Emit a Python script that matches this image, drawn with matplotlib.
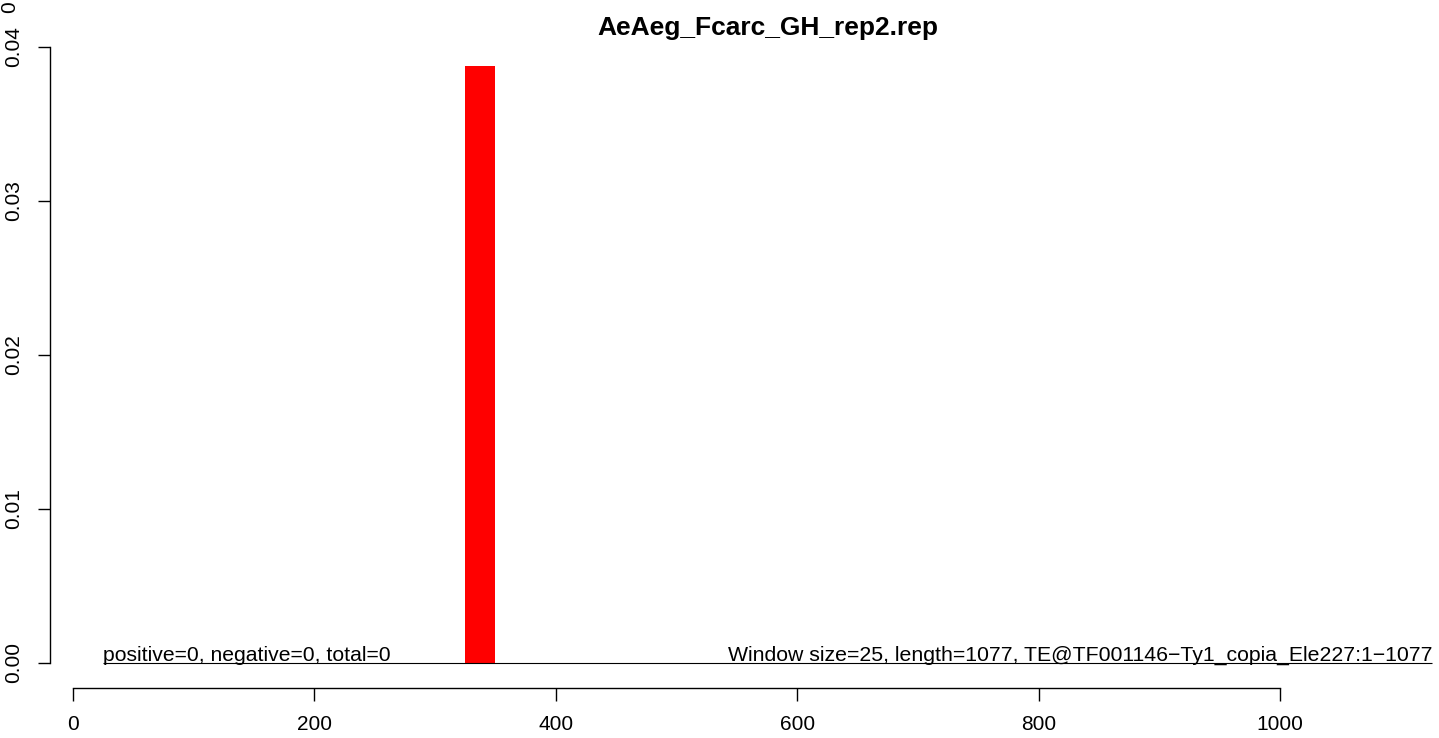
import matplotlib
matplotlib.use("Agg")
import matplotlib.pyplot as plt

plt.rcParams['font.family'] = ['Liberation Sans', 'DejaVu Sans']

# data
title = "AeAeg_Fcarc_GH_rep2.rep"
window_size = 25
te_length = 1077
bar_starts = [325]
bar_values = [0.0388]
x_ticks = [0, 200, 400, 600, 800, 1000]
y_ticks = [0.00, 0.01, 0.02, 0.03, 0.04]
y_tick_labels = ["0.00", "0.01", "0.02", "0.03", "0.04"]
left_note = "positive=0, negative=0, total=0"
right_note = "Window size=25, length=1077, TE@TF001146\u2212Ty1_copia_Ele227:1\u22121077"

W, H = 1439, 738
fig = plt.figure(figsize=(W / 100, H / 100), dpi=100)
fig.set_facecolor('white')

# plot region (R style, part of it is cut off on the right)
x0, x1 = -19, 1169
y0, y1 = -0.0016, 0.0416
ax = fig.add_axes([50 / W, (H - 687.6) / H, (1484 - 50) / W, (687.6 - 22.4) / H])
ax.set_xlim(x0, x1)
ax.set_ylim(y0, y1)
ax.patch.set_visible(False)

ax.bar(bar_starts, bar_values, width=window_size, align='edge', color='#ff0000', linewidth=0)
ax.plot([25, 1126], [0, 0], color='black', lw=0.8, solid_capstyle='butt')

ax.text(25, 0.00015, left_note, ha='left', va='baseline', fontsize=15.2)
ax.text(1126, 0.00015, right_note, ha='right', va='baseline', fontsize=15.3)

for s in ['top', 'right']:
    ax.spines[s].set_visible(False)
ax.spines['left'].set_bounds(0, 0.04)
ax.spines['bottom'].set_bounds(0, 1000)
for s in ['left', 'bottom']:
    ax.spines[s].set_linewidth(1.0)

ax.set_xticks(x_ticks)
ax.set_xticklabels([str(t) for t in x_ticks], fontsize=15)
ax.set_yticks(y_ticks)
ax.set_yticklabels(y_tick_labels, fontsize=15, rotation=90, va='center')
ax.tick_params(axis='x', length=9.5, width=1.0, pad=10)
ax.tick_params(axis='y', length=9, width=1.0, pad=10.5)

fig.text(768 / W, 1 - 35 / H, title, ha='center', va='baseline', fontsize=19, fontweight='bold')
# leftover label of the panel above, cut off at the top
fig.text(10 / W, 1 - 7 / H, "0", ha='center', va='center', rotation=90, fontsize=15)

fig.savefig('out.png', dpi=100)
